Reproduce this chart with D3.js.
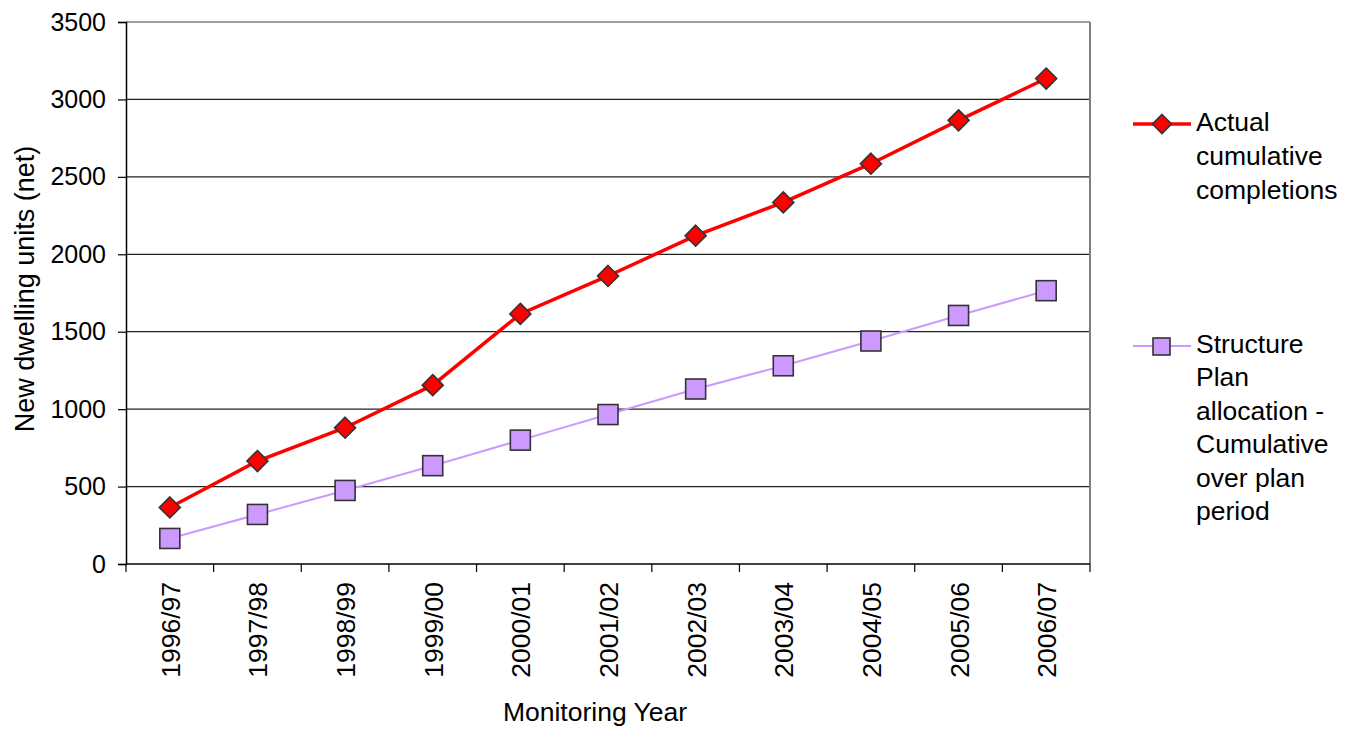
<!DOCTYPE html>
<html>
<head>
<meta charset="utf-8">
<script src="https://cdn.jsdelivr.net/npm/d3@7"></script>
<style>
  html, body { margin: 0; padding: 0; background: #fff; }
  svg { display: block; font-family: "Liberation Sans", Arial, sans-serif; }
</style>
</head>
<body>
<svg id="chart" width="1349" height="731"></svg>
<script>
// Monitoring years (categories)
const years = ["1996/97","1997/98","1998/99","1999/00","2000/01","2001/02",
               "2002/03","2003/04","2004/05","2005/06","2006/07"];
// Actual cumulative completions
const actual = [365, 665, 880, 1155, 1615, 1860, 2120, 2335, 2585, 2865, 3135];
// Structure Plan allocation, cumulative over plan period
const allocation = [165, 320, 475, 635, 800, 965, 1130, 1280, 1440, 1605, 1765];
// Y-axis ticks
const yTicks = [0, 500, 1000, 1500, 2000, 2500, 3000, 3500];

const svg = d3.select("#chart");
const plotLeft = 126, plotRight = 1090, plotTop = 22, plotBottom = 564;
const labelSize = 26.5;

const x = d3.scaleBand().domain(years).range([plotLeft, plotRight]);
const y = d3.scaleLinear().domain([0, 3500]).range([plotBottom, plotTop]);

// Horizontal gridlines
svg.append("g").selectAll("line").data(yTicks.filter(d => d > 0 && d < 3500)).join("line")
  .attr("x1", plotLeft).attr("x2", plotRight)
  .attr("y1", d => y(d)).attr("y2", d => y(d))
  .attr("stroke", "#222").attr("stroke-width", 1.2);

// Plot frame: top and right in grey
svg.append("line").attr("x1", plotLeft).attr("x2", plotRight).attr("y1", y(3500)).attr("y2", y(3500))
  .attr("stroke", "#808080").attr("stroke-width", 1.5);
svg.append("line").attr("x1", plotRight).attr("x2", plotRight).attr("y1", y(3500)).attr("y2", plotBottom)
  .attr("stroke", "#808080").attr("stroke-width", 2);

// Y axis
const yAxis = svg.append("g").attr("transform", `translate(${plotLeft},0)`)
  .call(d3.axisLeft(y).tickValues(yTicks).tickSize(8).tickPadding(12).tickFormat(d3.format("d")));
yAxis.select(".domain").attr("stroke", "#000").attr("stroke-width", 1.5);
yAxis.selectAll(".tick line").attr("stroke", "#000").attr("stroke-width", 1.2);
yAxis.selectAll("text").attr("font-size", 25).attr("fill", "#000")
  .attr("font-family", "Liberation Sans, Arial, sans-serif");

// X axis with ticks at category boundaries
const xAxis = svg.append("g").attr("transform", `translate(0,${plotBottom})`);
xAxis.append("line").attr("x1", plotLeft).attr("x2", plotRight).attr("y1", 0).attr("y2", 0)
  .attr("stroke", "#000").attr("stroke-width", 1.5);
const bounds = years.map(d => x(d)).concat([plotRight]);
xAxis.selectAll("line.tk").data(bounds).join("line").attr("class", "tk")
  .attr("x1", d => d).attr("x2", d => d).attr("y1", 0).attr("y2", 8)
  .attr("stroke", "#000").attr("stroke-width", 1.2);
xAxis.selectAll("text").data(years).join("text")
  .attr("transform", d => `translate(${x(d) + x.bandwidth() / 2 + 10},${18}) rotate(-90)`)
  .attr("text-anchor", "end")
  .attr("font-size", labelSize).attr("fill", "#000")
  .text(d => d);

// Axis titles
svg.append("text")
  .attr("transform", `translate(34,${289}) rotate(-90)`)
  .attr("text-anchor", "middle").attr("font-size", 27).attr("fill", "#000")
  .text("New dwelling units (net)");
svg.append("text")
  .attr("x", (plotLeft + plotRight) / 2 - 13).attr("y", 721)
  .attr("text-anchor", "middle").attr("font-size", labelSize).attr("fill", "#000")
  .text("Monitoring Year");

const cx = d => x(d) + x.bandwidth() / 2;
const line = d3.line().x(d => cx(d.year)).y(d => y(d.value));
const actualPts = years.map((yr, i) => ({ year: yr, value: actual[i] }));
const allocPts = years.map((yr, i) => ({ year: yr, value: allocation[i] }));

// Allocation series
svg.append("path").datum(allocPts).attr("d", line)
  .attr("fill", "none").attr("stroke", "#cc99ff").attr("stroke-width", 2);
svg.append("g").selectAll("rect").data(allocPts).join("rect")
  .attr("x", d => cx(d.year) - 10).attr("y", d => y(d.value) - 10)
  .attr("width", 20).attr("height", 20)
  .attr("fill", "#cc99ff").attr("stroke", "#333").attr("stroke-width", 1.6);

// Actual series
svg.append("path").datum(actualPts).attr("d", line)
  .attr("fill", "none").attr("stroke", "#ff0000").attr("stroke-width", 3.5);
const diamond = (px, py, r) => `M${px},${py - r}L${px + r},${py}L${px},${py + r}L${px - r},${py}Z`;
svg.append("g").selectAll("path").data(actualPts).join("path")
  .attr("d", d => diamond(cx(d.year), y(d.value), 10.5))
  .attr("fill", "#ff0000").attr("stroke", "#333").attr("stroke-width", 1.6);

// Legend
const lg = svg.append("g");
lg.append("line").attr("x1", 1133).attr("x2", 1191).attr("y1", 124).attr("y2", 124)
  .attr("stroke", "#ff0000").attr("stroke-width", 3.5);
lg.append("path").attr("d", diamond(1162, 124, 9.5))
  .attr("fill", "#ff0000").attr("stroke", "#333").attr("stroke-width", 1.6);
const l1 = ["Actual", "cumulative", "completions"];
lg.selectAll("text.a").data(l1).join("text").attr("class", "a")
  .attr("x", 1196).attr("y", (d, i) => 131 + i * 34)
  .attr("font-size", labelSize).attr("fill", "#000").text(d => d);

lg.append("line").attr("x1", 1133).attr("x2", 1191).attr("y1", 346).attr("y2", 346)
  .attr("stroke", "#cc99ff").attr("stroke-width", 2);
lg.append("rect").attr("x", 1153).attr("y", 338).attr("width", 17).attr("height", 17)
  .attr("fill", "#cc99ff").attr("stroke", "#333").attr("stroke-width", 1.6);
const l2 = ["Structure", "Plan", "allocation -", "Cumulative", "over plan", "period"];
lg.selectAll("text.b").data(l2).join("text").attr("class", "b")
  .attr("x", 1196).attr("y", (d, i) => 353 + i * 33.4)
  .attr("font-size", labelSize).attr("fill", "#000").text(d => d);
</script>
</body>
</html>
